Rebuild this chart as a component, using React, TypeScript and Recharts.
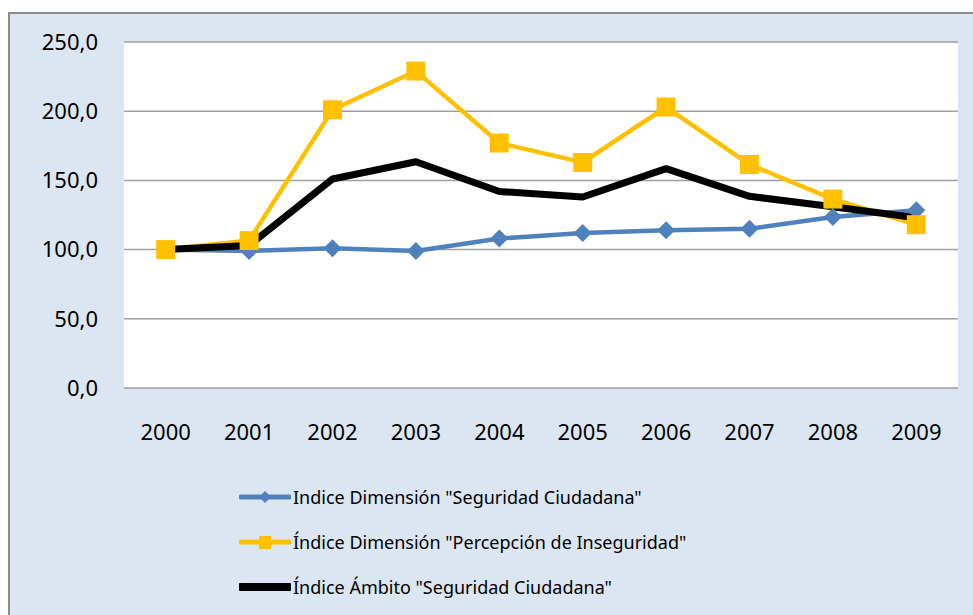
import React from "react";
import { CartesianGrid, Line, LineChart, XAxis, YAxis } from "recharts";

const years = ["2000", "2001", "2002", "2003", "2004", "2005", "2006", "2007", "2008", "2009"];
const seguridadCiudadana = [100, 99, 101, 99, 108, 112, 114, 115, 123.5, 128.5];
const percepcionInseguridad = [100, 106.5, 201, 229, 177, 163, 203, 161.5, 136.5, 118];
const ambitoSeguridad = [100, 103, 151, 163.5, 142, 138, 158.5, 138.5, 131, 123];
const yTicks = [0, 50, 100, 150, 200, 250];

const BLUE = "#4F81BD";
const YELLOW = "#FFC000";
const BLACK = "#000000";
const FONT = "'Noto Sans', sans-serif";

const data = years.map((year, i) => ({
  year,
  seguridad: seguridadCiudadana[i],
  percepcion: percepcionInseguridad[i],
  ambito: ambitoSeguridad[i],
}));

function formatTick(value: number) {
  return value.toFixed(1).replace(".", ",");
}

function DiamondDot(props: any) {
  const { cx, cy, index } = props;
  if (cx == null || cy == null) return <g key={`d-${index}`} />;
  const r = 9;
  return (
    <polygon
      key={`d-${index}`}
      points={`${cx},${cy - r} ${cx + r},${cy} ${cx},${cy + r} ${cx - r},${cy}`}
      fill={BLUE}
    />
  );
}

function SquareDot(props: any) {
  const { cx, cy, index } = props;
  if (cx == null || cy == null) return <g key={`s-${index}`} />;
  const s = 19;
  return <rect key={`s-${index}`} x={cx - s / 2} y={cy - s / 2} width={s} height={s} fill={YELLOW} />;
}

const legendItems = [
  { label: 'Indice Dimensión "Seguridad Ciudadana"', color: BLUE, width: 5, marker: "diamond" },
  { label: 'Índice Dimensión "Percepción de Inseguridad"', color: YELLOW, width: 5, marker: "square" },
  { label: 'Índice Ámbito "Seguridad Ciudadana"', color: BLACK, width: 8, marker: "none" },
];

function LegendSwatch({ color, width, marker }: { color: string; width: number; marker: string }) {
  return (
    <svg width={52} height={20} style={{ display: "block" }}>
      <line x1={2} y1={10} x2={50} y2={10} stroke={color} strokeWidth={width} strokeLinecap="round" />
      {marker === "diamond" && <polygon points="26,4 32,10 26,16 20,10" fill={color} />}
      {marker === "square" && <rect x={20} y={4} width={12} height={13} fill={color} />}
    </svg>
  );
}

export default function App() {
  return (
    <div style={{ position: "fixed", inset: 0, overflow: "hidden", background: "#fff", fontFamily: FONT }}>
      <div
        style={{
          position: "absolute",
          left: 8,
          top: 12,
          width: 1000,
          height: 700,
          background: "#DCE6F2",
          border: "2px solid #8C8C8C",
        }}
      />
      <div style={{ position: "absolute", left: 0, top: 0 }}>
        <LineChart
          width={973}
          height={615}
          data={data}
          margin={{ top: 42, right: 15, left: 0, bottom: 187 }}
        >
          <CartesianGrid horizontal vertical={false} stroke="#A0A0A0" strokeWidth={1.5} fill="#ffffff" />
          <XAxis
            dataKey="year"
            height={40}
            padding={{ left: 41.7, right: 41.7 }}
            axisLine={false}
            tickLine={false}
            tickMargin={30}
            tick={{ fill: "#000", fontSize: 22, fontFamily: FONT }}
          />
          <YAxis
            width={124}
            domain={[0, 250]}
            ticks={yTicks}
            axisLine={false}
            tickLine={false}
            tickMargin={20}
            tickFormatter={formatTick}
            tick={{ fill: "#000", fontSize: 22, fontFamily: FONT }}
          />
          <Line
            type="linear"
            dataKey="seguridad"
            stroke={BLUE}
            strokeWidth={4.5}
            dot={DiamondDot}
            activeDot={false}
            isAnimationActive={false}
          />
          <Line
            type="linear"
            dataKey="percepcion"
            stroke={YELLOW}
            strokeWidth={4.5}
            dot={SquareDot}
            activeDot={false}
            isAnimationActive={false}
          />
          <Line
            type="linear"
            dataKey="ambito"
            stroke={BLACK}
            strokeWidth={7}
            strokeLinecap="round"
            strokeLinejoin="round"
            dot={false}
            activeDot={false}
            isAnimationActive={false}
          />
        </LineChart>
      </div>
      <div style={{ position: "absolute", left: 239, top: 474 }}>
        {legendItems.map((item) => (
          <div key={item.label} style={{ display: "flex", alignItems: "center", height: 45 }}>
            <LegendSwatch color={item.color} width={item.width} marker={item.marker} />
            <span style={{ fontSize: 18, color: "#000", marginLeft: 2, whiteSpace: "nowrap" }}>{item.label}</span>
          </div>
        ))}
      </div>
    </div>
  );
}
